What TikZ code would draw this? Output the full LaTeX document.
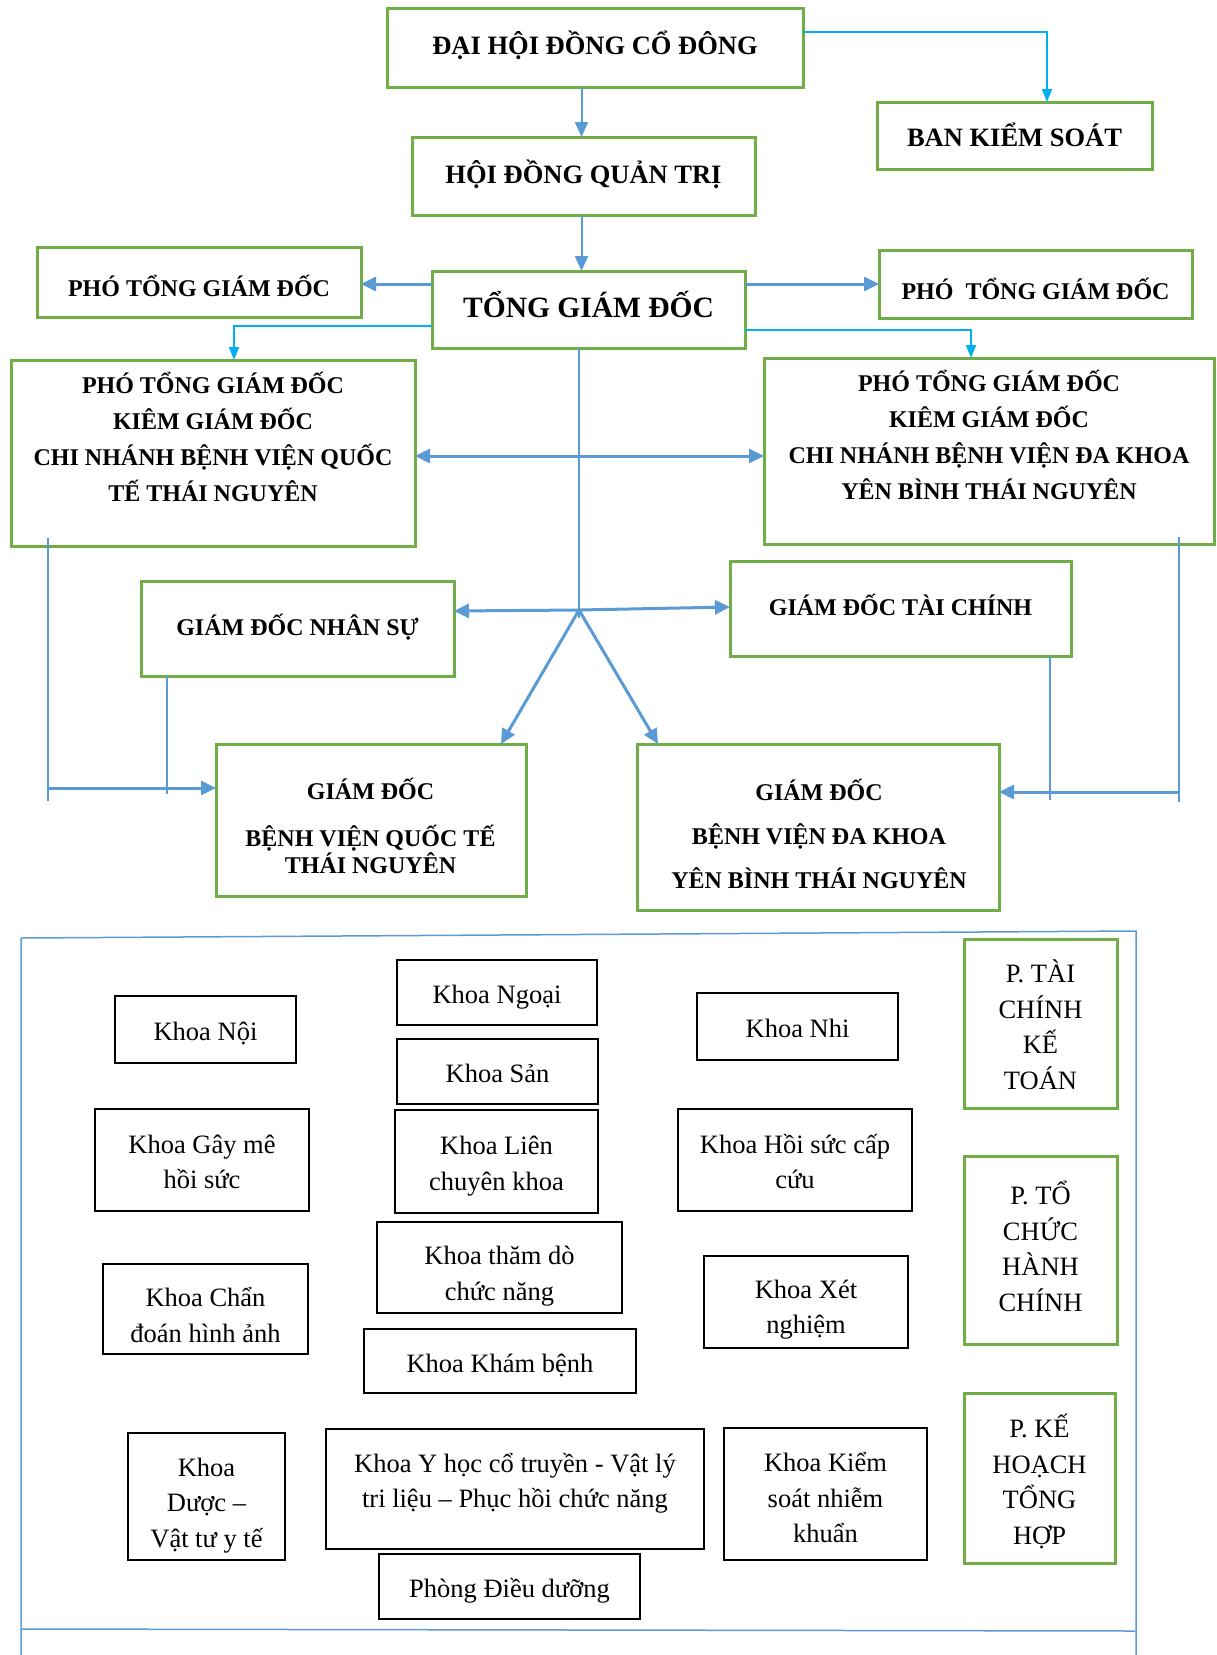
\documentclass[tikz,border=0pt]{standalone}
\usepackage{fontspec}
\setmainfont{Liberation Serif}
\usetikzlibrary{arrows.meta}
\definecolor{grn}{HTML}{70AD47}
\definecolor{blu}{HTML}{5B9BD5}
\definecolor{cyn}{HTML}{00B0F0}
\newcommand\myhb[2][36]{\bfseries\fontsize{#2}{#1}\selectfont}
\newcommand\myrg{\fontsize{26.5}{35.5}\selectfont}
\newcommand\myts[1][8]{\rule[-.3\baselineskip]{0pt}{\dimexpr\baselineskip+#1pt\relax}}
\newcommand\mybs[1][0]{\rule[\dimexpr-.3\baselineskip-#1pt\relax]{0pt}{\dimexpr.3\baselineskip+#1pt\relax}}
\newcommand\mybox[7][]{\node[#1, minimum width={(#5-#3)*1pt}, minimum height={(#6-#4)*1pt}] (#2) at ({(#3+#5)/2},{(#4+#6)/2}) {#7};}
\tikzset{
 gbox/.style={draw=grn, line width=3pt, inner sep=0pt, outer sep=0pt, align=center, font={\myhb{24}}},
 kbox/.style={draw=black, line width=2pt, inner sep=0pt, outer sep=0pt, align=center, font=\myrg},
 pbox/.style={kbox, draw=grn, line width=3pt},
 txt/.style={inner sep=0pt, align=center},
 arr/.style={draw=blu, line width=3pt, -{Triangle[length=15pt,width=14pt]}},
 varr/.style={draw=blu, line width=2pt, -{Triangle[length=15pt,width=13pt]}},
 carr/.style={draw=cyn, line width=2pt, -{Triangle[length=13pt,width=10pt]}},
 thn/.style={draw=blu, line width=1.2pt},
 frm/.style={draw=blu, line width=1.5pt}
}
\begin{document}
\begin{tikzpicture}[x=1pt,y=-1pt]
\fill[white] (0,0) rectangle (1216,1655);
\useasboundingbox (0,0) rectangle (1216,1655);

% top part boxes
\mybox[gbox, font={\myhb{26.5}}]{dh}{387}{8}{803}{87}{\strut ĐẠI HỘI ĐỒNG CỔ ĐÔNG\strut}
\mybox[gbox, font={\myhb{26.5}}]{bks}{877}{102}{1152}{169}{\myts[8]BAN KIỂM SOÁT\strut}
\mybox[gbox, font={\myhb{26.5}}]{hd}{412}{137}{755}{215}{\strut HỘI ĐỒNG QUẢN TRỊ\strut}
\mybox[gbox, font={\myhb{29.5}}]{tgd}{432}{271}{745}{348}{\strut TỔNG GIÁM ĐỐC\strut}
\mybox[gbox]{ptl}{37}{247}{361}{317}{\myts[15]PHÓ TỔNG GIÁM ĐỐC\strut}
\mybox[gbox]{ptr}{879}{250}{1192}{318}{\myts[16]PHÓ\ \ TỔNG GIÁM ĐỐC\strut}
\mybox[gbox]{bigl}{11}{360}{415}{546}{}
\mybox[gbox]{bigr}{764}{358}{1214}{544}{}
\mybox[gbox]{gdns}{141}{581}{454}{676}{\strut GIÁM ĐỐC NHÂN SỰ\strut}
\mybox[gbox]{gdtc}{730}{561}{1071}{656}{\strut GIÁM ĐỐC TÀI CHÍNH\strut}
\mybox[gbox]{gdq}{216}{744}{526}{896}{}
\mybox[gbox]{gdd}{637}{744}{999}{910}{}

\node[txt, font={\myhb{24}}] (tl) at (213,440.7) {\strut PHÓ TỔNG GIÁM ĐỐC\\KIÊM GIÁM ĐỐC\\CHI NHÁNH BỆNH VIỆN QUỐC\\TẾ THÁI NGUYÊN\strut};
\node[txt, font={\myhb{24}}] (tr) at (989,438.7) {\strut PHÓ TỔNG GIÁM ĐỐC\\KIÊM GIÁM ĐỐC\\CHI NHÁNH BỆNH VIỆN ĐA KHOA\\YÊN BÌNH THÁI NGUYÊN\strut};
\node[txt, font={\myhb[27]{24}}] (tq) at (370.5,830) {\strut GIÁM ĐỐC\\[17pt]BỆNH VIỆN QUỐC TẾ\\THÁI NGUYÊN\strut};
\node[txt, font={\myhb[44]{24}}] (td) at (819,835.5) {\strut GIÁM ĐỐC\\BỆNH VIỆN ĐA KHOA\\YÊN BÌNH THÁI NGUYÊN\strut};

% connectors
\draw[carr] ([yshift=15.5pt]dh.east) -| ([xshift=32.5pt]bks.north);
\draw[varr] ([xshift=-2pt]dh.south -| hd.north) -- ([xshift=-2pt]hd.north);
\draw[varr] ([xshift=-2pt]hd.south) -- ([xshift=-2pt]hd.south |- tgd.north);
\draw[arr] ([yshift=25.5pt]tgd.west) -- ([yshift=25.5pt]tgd.west -| ptl.east);
\draw[arr] ([yshift=25.5pt]tgd.east) -- ([yshift=25.5pt]tgd.east -| ptr.west);
\draw[carr] ([yshift=-16.5pt]tgd.west) -| ([xshift=21pt]bigl.north);
\draw[carr] ([yshift=-20.5pt]tgd.east) -| ([xshift=-18pt]bigr.north);
\draw[arr, {Triangle[length=15pt,width=14pt]}-{Triangle[length=15pt,width=14pt]}] ([yshift=-3pt]bigl.east) -- ([yshift=-3pt]bigl.east -| bigr.west);

\coordinate (J) at (579,610);
\draw[thn] (tgd.south -| J) -- ([yshift=-8pt]J);
\draw[arr] (J) -- ([yshift=17.5pt]gdns.east);
\draw[arr] (J) -- ([yshift=1.5pt]gdtc.west);
\draw[arr] (J) -- ([xshift=-25pt]gdq.north east);
\draw[arr] (J) -- ([xshift=21pt]gdd.north west);

\coordinate (L1) at (48,538);
\coordinate (L2) at (48,801);
\coordinate (L3) at (48,788);
\coordinate (N2) at (167,794);
\draw[thn] (L1) -- (L2);
\draw[thn] (gdns.south -| N2) -- (N2);
\draw[arr] (L3) -- (L3 -| gdq.west);

\coordinate (R1) at (1179,537);
\coordinate (R2) at (1179,802);
\coordinate (R3) at (1179,792);
\coordinate (T2) at (1050,800);
\draw[thn] (R1) -- (R2);
\draw[thn] (gdtc.south -| T2) -- (T2);
\draw[arr] (R3) -- (R3 -| gdd.east);

% frame
\draw[frm] (21,1655) -- (21,938) -- (1136,931) -- (1136,1655);
\draw[frm] (21,1629) -- (1135,1631);

% departments
\mybox[kbox]{kn}{115}{996}{296}{1063}{\myts Khoa Nội\strut}
\mybox[kbox]{kng}{397}{960}{597}{1025}{\myts Khoa Ngoại\strut}
\mybox[kbox]{knhi}{697}{993}{898}{1060}{\myts Khoa Nhi\strut}
\mybox[pbox]{ptc}{964}{939}{1117}{1108}{\myts[11]P. TÀI\\CHÍNH\\KẾ\\TOÁN\strut}
\mybox[kbox]{ksan}{397}{1039}{598}{1104}{\myts Khoa Sản\strut}
\mybox[kbox]{kgm}{95}{1109}{309}{1211}{\myts Khoa Gây mê\\hồi sức\strut}
\mybox[kbox]{klck}{395}{1110}{598}{1213}{\myts Khoa Liên\\chuyên khoa\strut}
\mybox[kbox]{khs}{678}{1109}{912}{1211}{\myts Khoa Hồi sức cấp\\cứu\strut}
\mybox[pbox]{ptchc}{964}{1156}{1117}{1344}{\myts[2]P. TỔ\\CHỨC\\HÀNH\\CHÍNH\strut}
\mybox[kbox]{ktd}{377}{1222}{622}{1313}{\myts[16]Khoa thăm dò\\chức năng\strut}
\mybox[kbox]{kcd}{103}{1264}{308}{1354}{\myts[17]Khoa Chẩn\\đoán hình ảnh\strut}
\mybox[kbox]{kxn}{704}{1256}{908}{1348}{\myts[14]Khoa Xét\\nghiệm\strut}
\mybox[kbox]{kkb}{364}{1329}{636}{1393}{\myts Khoa Khám bệnh\strut}
\mybox[kbox]{kd}{128}{1433}{285}{1560}{\myts[16]Khoa\\Dược –\\Vật tư y tế\strut}
\mybox[kbox]{kyh}{326}{1429}{704}{1549}{\strut Khoa Y học cổ truyền - Vật lý\\tri liệu – Phục hồi chức năng\mybs[12]}
\mybox[kbox]{kks}{724}{1428}{927}{1560}{\myts[12]Khoa Kiểm\\soát nhiễm\\khuẩn\strut}
\mybox[pbox]{pkh}{964}{1393}{1115}{1563}{\myts[12]P. KẾ\\HOẠCH\\TỔNG\\HỢP\strut}
\mybox[kbox]{pdd}{379}{1554}{640}{1619}{\myts Phòng Điều dưỡng\strut}
\end{tikzpicture}
\end{document}
